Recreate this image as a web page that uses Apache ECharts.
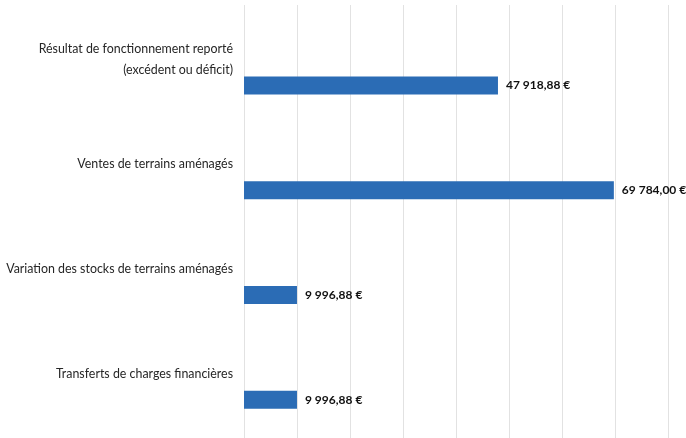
<!DOCTYPE html>
<html>
<head>
	<meta charset="utf-8">
	<title>charts</title>
	<script type="text/javascript" src="https://cdn.jsdelivr.net/npm/echarts@6/dist/echarts.min.js"></script>
	<style>
		html, body { margin: 0; padding: 0; background: #fff; }
	</style>
</head>
<body>
	<div id="main" style="width: 686px;height:438px;"></div>
	<script type="text/javascript">
		var categories = [
			'Résultat de fonctionnement reporté\n(excédent ou déficit)',
			'Ventes de terrains aménagés',
			'Variation des stocks de terrains aménagés',
			'Transferts de charges financières'
		];
		var montants = [47918.88, 69784.00, 9996.88, 9996.88];

		var FONT = 'Lato, "Liberation Sans", sans-serif';

		// 47918.88 -> "47 918,88 €"
		function euros(v) {
			var parts = v.toFixed(2).split('.');
			var ent = parts[0].replace(/\B(?=(\d{3})+(?!\d))/g, ' ');
			return ent + ',' + parts[1] + ' €';
		}

		var myChart = echarts.init(document.getElementById('main'));

		var option = {
			animation: false,
			grid: [
				// background grid only for the vertical lines (runs to the bottom edge)
				{ left: 244, right: 18, top: 5, bottom: 0, outerBoundsMode: 'none', containLabel: false },
				{ left: 244, right: 18, top: 33, height: 419, outerBoundsMode: 'none', containLabel: false }
			],
			xAxis: [{
				gridIndex: 0,
				type: 'value',
				min: 0,
				max: 80000,
				interval: 10000,
				axisLabel: { show: false },
				axisLine: { show: false },
				axisTick: { show: false },
				splitLine: { lineStyle: { color: '#e2e2e2', width: 1 } }
			}, {
				gridIndex: 1,
				type: 'value',
				min: 0,
				max: 80000,
				show: false
			}],
			yAxis: [{
				gridIndex: 0,
				type: 'value',
				min: 0,
				max: 1,
				show: false
			}, {
				gridIndex: 1,
				type: 'category',
				inverse: true,
				data: categories,
				axisLine: { show: false },
				axisTick: { show: false },
				axisLabel: {
					margin: 11,
					align: 'right',
					// labels sit above their bar: push the text up with an empty line below it
					formatter: function (v) {
						return v.split('\n').map(function (l) { return '{t|' + l + '}'; }).join('\n') + '\n{gap|}';
					},
					rich: {
						t: { color: '#262626', fontFamily: FONT, fontSize: 12.4, lineHeight: 21, align: 'right' },
						gap: { lineHeight: 52, height: 52 }
					}
				}
			}],
			series: [{
				name: 'montant',
				type: 'bar',
				xAxisIndex: 1,
				yAxisIndex: 1,
				data: montants,
				barWidth: 18,
				itemStyle: { color: '#2b6cb5' },
				label: {
					show: true,
					position: 'right',
					distance: 8,
					color: '#111',
					fontFamily: FONT,
					fontSize: 12,
					fontWeight: 'bold',
					formatter: function (p) { return euros(p.value); }
				}
			}]
		};

		myChart.setOption(option);
	</script>
</body>
</html>
